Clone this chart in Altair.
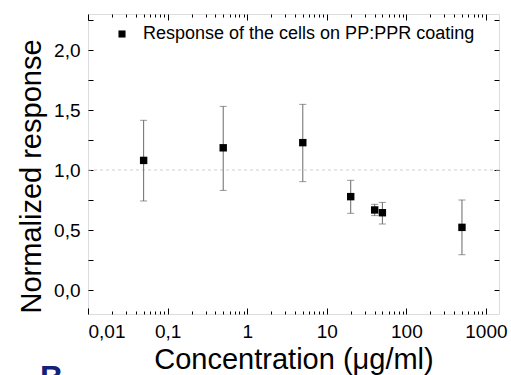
import altair as alt
import pandas as pd

conc = [0.05, 0.5, 5, 20, 40, 50, 500]
resp = [1.08, 1.185, 1.228, 0.778, 0.667, 0.644, 0.522]
err_hi = [1.414, 1.53, 1.547, 0.914, 0.714, 0.73, 0.75]
err_lo = [0.742, 0.83, 0.903, 0.639, 0.62, 0.55, 0.294]
series = "Response of the cells on PP:PPR coating"

x_major = [0.01, 0.1, 1, 10, 100, 1000]
x_minor = [0.02, 0.03, 0.04, 0.05, 0.06, 0.07, 0.08, 0.09,
           0.2, 0.3, 0.4, 0.5, 0.6, 0.7, 0.8, 0.9,
           2, 3, 4, 5, 6, 7, 8, 9,
           20, 30, 40, 50, 60, 70, 80, 90,
           200, 300, 400, 500, 600, 700, 800, 900]
y_major = [0.0, 0.5, 1.0, 1.5, 2.0]
y_minor = [0.25, 0.75, 1.25, 1.75, 2.25]
ref_line = [1.0]

FONT = "Liberation Sans"

df = pd.DataFrame({"conc": conc, "resp": resp, "hi": err_hi, "lo": err_lo,
                   "series": [series] * len(conc)})
caps = pd.DataFrame({"conc": conc + conc, "v": err_hi + err_lo})

xs = alt.Scale(type="log", domain=[0.01, 1460], nice=False)
ys = alt.Scale(domain=[-0.2, 2.3], nice=False, zero=False)

ref = alt.Chart(pd.DataFrame({"v": ref_line})).mark_rule(
    strokeDash=[3, 3], color="#cfcfcf", strokeWidth=1
).encode(y=alt.Y("v:Q", scale=ys, axis=None))

bars = alt.Chart(df).mark_rule(color="#6a6a6a", strokeWidth=1).encode(
    x=alt.X("conc:Q", scale=xs, axis=None),
    y=alt.Y("lo:Q", scale=ys, axis=None),
    y2="hi:Q",
)

capm = alt.Chart(caps).mark_tick(orient="horizontal", size=7, thickness=1, color="#6a6a6a").encode(
    x=alt.X("conc:Q", scale=xs, axis=None),
    y=alt.Y("v:Q", scale=ys, axis=None),
)

pts = alt.Chart(df).mark_point(shape="square", filled=True, size=55, opacity=1).encode(
    x=alt.X("conc:Q", scale=xs, axis=None),
    y=alt.Y("resp:Q", scale=ys, axis=None),
    color=alt.Color("series:N", scale=alt.Scale(range=["black"]),
                    legend=alt.Legend(orient="none", legendX=25, legendY=11, title=None,
                                      labelFontSize=18, labelFont=FONT, labelColor="black",
                                      labelLimit=0,
                                      symbolType="square", symbolSize=50,
                                      symbolFillColor="black", symbolStrokeWidth=0,
                                      labelOffset=12, padding=0)),
)


def axis_layer(xaxis, yaxis):
    return alt.Chart(df).mark_point(opacity=0).encode(
        x=alt.X("conc:Q", scale=xs, axis=xaxis),
        y=alt.Y("resp:Q", scale=ys, axis=yaxis),
    )


def tick_axis(orient, values, size):
    return alt.Axis(orient=orient, values=values, labels=False, domain=False, grid=False,
                    ticks=True, tickSize=size, offset=-size, title=None,
                    tickColor="black", tickWidth=1)


label_layer = axis_layer(
    alt.Axis(orient="bottom", values=x_major, ticks=False, domain=False, grid=False,
             labelExpr="replace(toString(datum.value), '.', ',')",
             labelFontSize=19, labelFont=FONT, labelColor="black", labelPadding=8,
             title="Concentration (\u03bcg/ml)", titleFontSize=29, titleFont=FONT,
             titleFontWeight="normal", titleColor="black", titleY=54,
             titleBaseline="alphabetic"),
    alt.Axis(orient="left", values=y_major, ticks=False, domain=False, grid=False,
             labelExpr="replace(format(datum.value, '.1f'), '.', ',')",
             labelFontSize=19, labelFont=FONT, labelColor="black", labelPadding=8,
             title="Normalized response", titleFontSize=29, titleFont=FONT,
             titleFontWeight="normal", titleColor="black", titleX=-48, titleY=162,
             titleBaseline="alphabetic", titleAngle=-90),
)

l_major_bl = axis_layer(tick_axis("bottom", x_major, 6), tick_axis("left", y_major, 5))
l_minor_bl = axis_layer(tick_axis("bottom", x_minor, 3), tick_axis("left", y_minor, 5))
l_major_tr = axis_layer(tick_axis("top", x_major, 6), tick_axis("right", y_major, 5))
l_minor_tr = axis_layer(tick_axis("top", x_minor, 3), tick_axis("right", y_minor, 5))

btext = alt.Chart(pd.DataFrame({"t": ["B"]})).mark_text(
    fontSize=32, fontWeight="bold", color="#14217a", align="left",
    baseline="alphabetic", font=FONT
).encode(x=alt.value(-48), y=alt.value(374), text="t:N")

chart = alt.layer(
    ref, bars, capm, pts, label_layer, l_major_bl, l_minor_bl, l_major_tr, l_minor_tr, btext
).resolve_axis(x="independent", y="independent").properties(
    width=411, height=300,
    autosize="none",
    padding={"left": 88, "top": 14, "right": 12, "bottom": 61},
).configure_view(stroke="black", strokeWidth=1.5).configure(background="white")

chart.save("out.html", embed_options={"renderer": "svg", "actions": False})
